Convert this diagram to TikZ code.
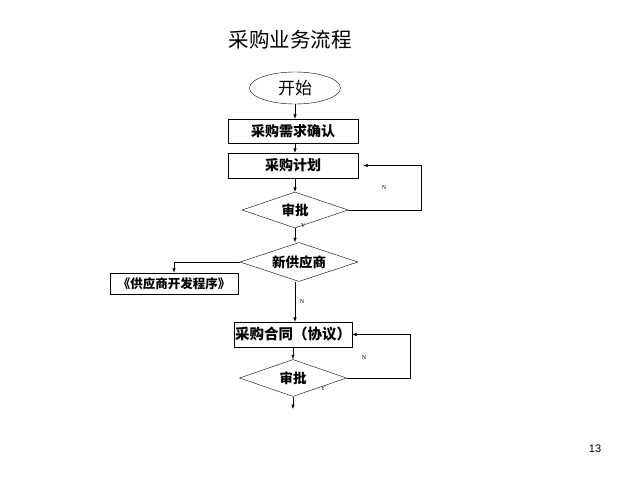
\documentclass[tikz,border=0pt]{standalone}
\usepackage{fontspec}
\setmainfont{Liberation Serif}
\setsansfont{Liberation Sans}
\newfontfamily\cjk{Noto Sans CJK SC}
\usetikzlibrary{shapes.geometric,arrows.meta}

\begin{document}
\begin{tikzpicture}[x=1pt,y=-1pt,
	kuang/.style={draw, rectangle, inner sep=0pt, font=\cjk\bfseries\fontsize{14}{14}\selectfont},
	pan/.style={draw, diamond, aspect=3, inner sep=0pt, font=\cjk\bfseries\fontsize{13.5}{14}\selectfont},
	biao/.style={font=\fontsize{6}{6}\selectfont, inner sep=0pt},
	jt/.style={-{Latex[length=4.5pt,width=3.5pt]}, line width=0.6pt}
	]
	\useasboundingbox[fill=white] (0,0) rectangle (640,480);

	\node[font=\cjk\fontsize{20.5}{21}\selectfont] (title) at (290,40) {采购业务流程};

	\node[draw, ellipse, minimum width=91pt, minimum height=32pt, inner sep=0pt,
		font=\cjk\fontsize{17}{18}\selectfont] (ks) at (295,88) {开始};
	\node[kuang, minimum width=130pt, minimum height=24pt] (xq) at (293,131) {采购需求确认};
	\node[kuang, minimum width=130pt, minimum height=25pt] (jh) at (293,165.5) {采购计划};
	\node[pan, minimum width=106pt, minimum height=36pt] (sp1) at (295,210) {审批};
	\node[pan, minimum width=118pt, minimum height=39pt] (xgys) at (299,262) {新供应商};
	\node[kuang, minimum width=128pt, minimum height=21pt,
		font=\cjk\bfseries\fontsize{12.5}{13}\selectfont] (kf) at (174,283.5) {《供应商开发程序》};
	\node[kuang, minimum width=118pt, minimum height=25pt,
		font=\cjk\bfseries\fontsize{14.5}{15}\selectfont] (ht) at (293,334.5) {采购合同（协议）};
	\node[pan, minimum width=107pt, minimum height=37pt] (sp2) at (293,378) {审批};

	\coordinate (r1) at (421,0);
	\coordinate (r2) at (410,0);
	\coordinate (zd) at (293,409);

	% main line
	\draw[jt] (ks.south) -- (ks.south |- xq.north);
	\draw[jt] (ks.south |- xq.south) -- (ks.south |- jh.north);
	\draw[jt] (ks.south |- jh.south) -- (sp1.north);
	\draw[jt] (sp1.south) -- (sp1.south |- xgys.north);
	\draw[jt] (sp1.south |- xgys.south) -- (sp1.south |- ht.north);
	\draw[jt] (sp2.north |- ht.south) -- (sp2.north);
	\draw[jt] (sp2.south) -- (zd);

	% loops back
	\draw[jt, shorten >=5pt] (sp1.east) -| (r1 |- jh.east) -- (jh.east);
	\draw[jt] (sp2.east) -| (r2 |- ht.east) -- (ht.east);
	\draw[jt] (xgys.west) -| (kf.north);

	\node[biao] (n1) at (384,188) {N};
	\node[biao] (y1) at (303,226) {Y};
	\node[biao] (n2) at (302,302) {N};
	\node[biao] (n3) at (364,358) {N};
	\node[biao] (y2) at (323,389) {Y};

	\node[font=\sffamily\fontsize{11}{12}\selectfont] (ye) at (595,449) {13};
\end{tikzpicture}
\end{document}
